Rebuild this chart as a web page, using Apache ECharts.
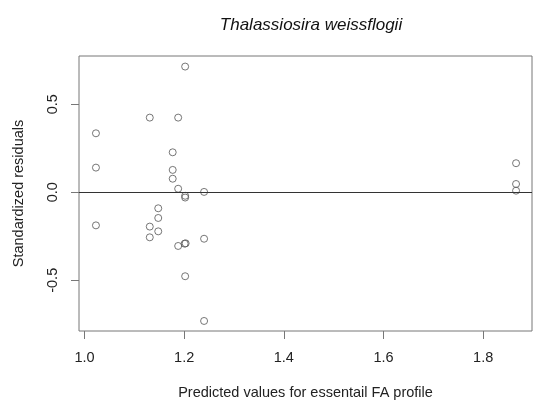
<!DOCTYPE html>
<html>
<head>
<meta charset="utf-8">
<script src="https://cdn.jsdelivr.net/npm/echarts@6/dist/echarts.min.js"></script>
<style>
  html, body { margin: 0; padding: 0; background: #fff; }
  #chart { width: 533px; height: 403px; }
</style>
</head>
<body>
<div id="chart"></div>
<script>
// Fitted values (x) and standardized residuals (y), one entry per observation
const predicted = [
  1.023, 1.023, 1.023,
  1.131, 1.131, 1.131,
  1.148, 1.148, 1.148,
  1.177, 1.177, 1.177,
  1.188, 1.188, 1.188,
  1.202, 1.202, 1.202, 1.201, 1.203, 1.202,
  1.240, 1.240, 1.240,
  1.866, 1.866, 1.866
];
const residuals = [
  0.335, 0.140, -0.188,
  0.424, -0.195, -0.256,
  -0.091, -0.146, -0.222,
  0.227, 0.127, 0.077,
  0.424, 0.020, -0.305,
  0.714, -0.020, -0.030, -0.292, -0.290, -0.477,
  0.002, -0.264, -0.731,
  0.165, 0.047, 0.009
];
const xTicks = [1.0, 1.2, 1.4, 1.6, 1.8];
const yTicks = [-0.5, 0.0, 0.5];

const points = predicted.map((x, i) => [x, residuals[i]]);
const font = 'Liberation Sans, Arial, Helvetica, sans-serif';

const chart = echarts.init(document.getElementById('chart'), null, { renderer: 'canvas' });
chart.setOption({
  animation: false,
  backgroundColor: '#fff',
  title: {
    text: 'Thalassiosira weissflogii',
    left: 306, top: 12, textAlign: 'center',
    textStyle: { fontFamily: font, fontSize: 17, fontStyle: 'italic', fontWeight: 'normal', color: '#111' }
  },
  grid: {
    left: 79, right: 1, top: 56, bottom: 72,
    outerBoundsMode: 'none', containLabel: false,
    show: true, borderColor: '#777', borderWidth: 1, backgroundColor: 'transparent'
  },
  xAxis: {
    type: 'value', min: 0.989, max: 1.898,
    name: 'Predicted values for essentail FA profile',
    nameLocation: 'middle', nameGap: 54,
    nameTextStyle: { fontFamily: font, fontSize: 14.5, color: '#222' },
    splitLine: { show: false },
    axisLine: { show: false, onZero: false },
    axisTick: { show: true, length: 8, inside: false, customValues: xTicks, lineStyle: { color: '#777' } },
    axisLabel: {
      customValues: xTicks, margin: 19,
      fontFamily: font, fontSize: 14.5, color: '#222',
      formatter: v => v.toFixed(1)
    }
  },
  yAxis: {
    type: 'value', min: -0.788, max: 0.774,
    name: 'Standardized residuals',
    nameLocation: 'middle', nameGap: 53, nameRotate: 90,
    nameTextStyle: { fontFamily: font, fontSize: 14.5, color: '#222' },
    splitLine: { show: false },
    axisLine: { show: false, onZero: false },
    axisTick: { show: true, length: 8, customValues: yTicks, lineStyle: { color: '#777' } },
    axisLabel: {
      customValues: yTicks, rotate: 90, margin: 19,
      fontFamily: font, fontSize: 14.5, color: '#222',
      formatter: v => v.toFixed(1)
    }
  },
  series: [{
    type: 'scatter',
    data: points,
    symbol: 'circle',
    symbolSize: 7,
    itemStyle: { color: 'rgba(255,255,255,0)', borderColor: '#555', borderWidth: 1 },
    markLine: {
      silent: true, symbol: 'none',
      label: { show: false },
      lineStyle: { color: '#333', type: 'solid', width: 1 },
      data: [{ yAxis: 0 }]
    }
  }]
});
</script>
</body>
</html>
